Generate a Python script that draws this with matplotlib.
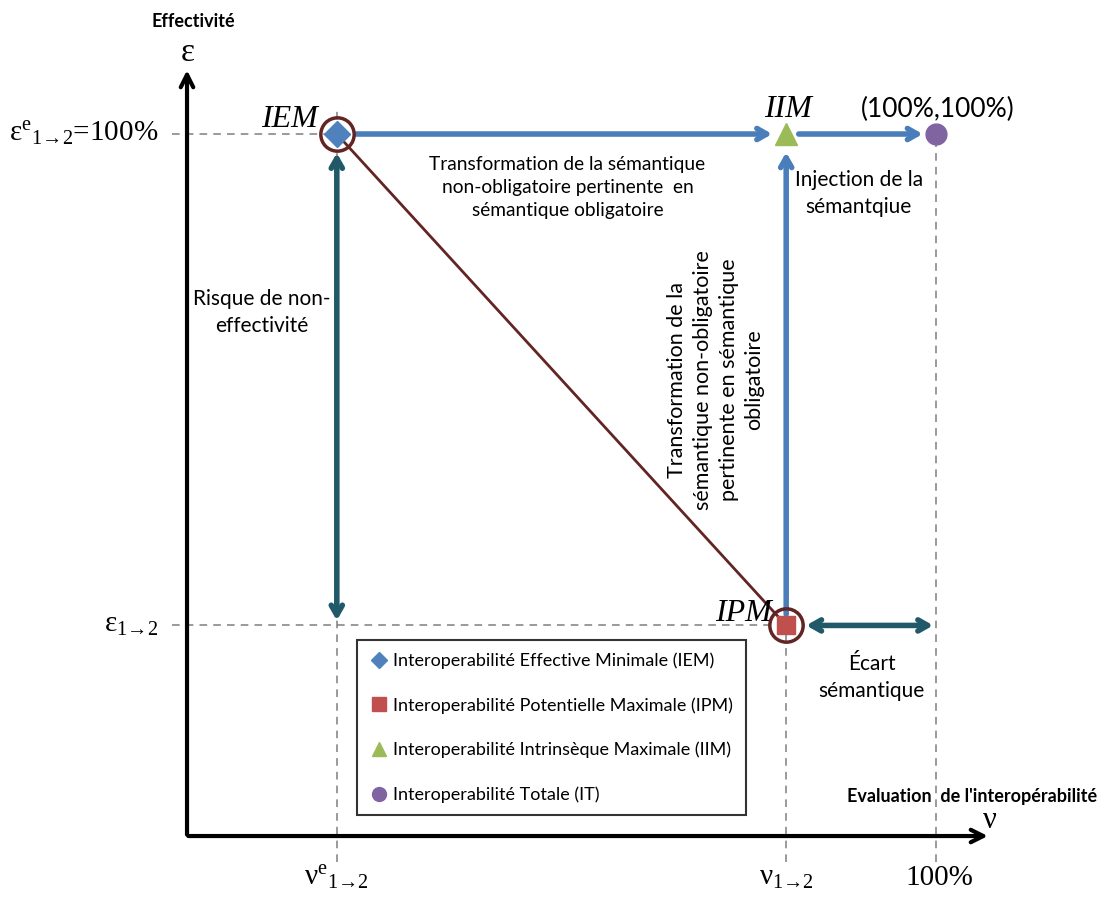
import matplotlib
matplotlib.use("Agg")
import matplotlib.pyplot as plt
from matplotlib.lines import Line2D

plt.rcParams['mathtext.fontset'] = 'custom'
plt.rcParams['mathtext.rm'] = 'Liberation Serif'
plt.rcParams['mathtext.it'] = 'Liberation Serif:italic'
plt.rcParams['mathtext.bf'] = 'Liberation Serif:bold'

# points (x = interoperability evaluation %, y = effectivity %)
names = ["IEM", "IPM", "IIM", "IT"]
x_vals = [20, 80, 80, 100]
y_vals = [100, 30, 100, 100]
markers = ["D", "s", "^", "o"]
colors = ["#4F81BD", "#C0504D", "#9BBB59", "#8064A2"]
legend_labels = ["Interoperabilité Effective Minimale (IEM)",
                 "Interoperabilité Potentielle Maximale (IPM)",
                 "Interoperabilité Intrinsèque Maximale (IIM)",
                 "Interoperabilité Totale (IT)"]

sans = "Lato"
serif = "Liberation Serif"

fig = plt.figure(figsize=(11, 8.99), dpi=100)
ax = fig.add_axes([0, 0, 1, 1])
# pixel mapping: x_px = 187 + 7.49*x ; y_px = 836 - 7.02*y
ax.set_xlim(-24.97, 121.9)
ax.set_ylim(-8.97, 119.09)
ax.axis("off")

iem = (x_vals[0], y_vals[0])
ipm = (x_vals[1], y_vals[1])
iim = (x_vals[2], y_vals[2])
it = (x_vals[3], y_vals[3])

# main axes
ax.annotate("", xy=(0, 109.5), xytext=(0, -0.2),
            arrowprops=dict(arrowstyle="->,head_length=0.9,head_width=0.45", color="black", lw=3))
ax.annotate("", xy=(107.3, 0), xytext=(-0.2, 0),
            arrowprops=dict(arrowstyle="->,head_length=0.9,head_width=0.45", color="black", lw=3))

# dashed guides
dash = dict(color="#7f7f7f", lw=1.1, ls=(0, (5, 4)))
ax.plot([-2, iem[0]], [iem[1], iem[1]], **dash)
ax.plot([-2, ipm[0]], [ipm[1], ipm[1]], **dash)
ax.plot([iem[0], iem[0]], [-3.7, iem[1] + 3.5], **dash)
ax.plot([ipm[0], ipm[0]], [-3.7, ipm[1]], **dash)
ax.plot([it[0], it[0]], [-3.7, it[1]], **dash)

# red diagonal and circles
red = "#632523"
ax.plot([iem[0], ipm[0]], [iem[1], ipm[1]], color=red, lw=2)
ax.plot([iem[0], ipm[0]], [iem[1], ipm[1]], marker="o", ms=24, mfc="none", mec=red,
        mew=2.5, ls="none", zorder=4)

# blue arrows
blue = "#4A7EBB"
bstyle = dict(arrowstyle="->,head_length=0.7,head_width=0.4", color=blue, lw=4)
ax.annotate("", xy=(iim[0] - 1.5, iim[1]), xytext=(iem[0] + 2.2, iem[1]), arrowprops=bstyle)
ax.annotate("", xy=(it[0] - 1.4, it[1]), xytext=(iim[0] + 1.3, iim[1]), arrowprops=bstyle)
ax.annotate("", xy=(iim[0], iim[1] - 2.2), xytext=(ipm[0], ipm[1] + 1.2), arrowprops=bstyle)

# teal double arrows
teal = "#215968"
tstyle = dict(arrowstyle="<->,head_length=0.7,head_width=0.4", color=teal, lw=4)
ax.annotate("", xy=(iem[0], ipm[1] + 0.3), xytext=(iem[0], iem[1] - 2.3), arrowprops=tstyle)
ax.annotate("", xy=(it[0], ipm[1]), xytext=(ipm[0] + 2.3, ipm[1]), arrowprops=tstyle)

# markers
ms = [13, 13, 16, 15]
for i in range(len(names)):
    ax.plot(x_vals[i], y_vals[i], marker=markers[i], color=colors[i], ms=ms[i],
            ls="none", zorder=5)

# point labels
lab = dict(family=serif, style="italic", fontsize=23, va="baseline")
ax.text(17.5, 101.0, "IEM", ha="right", **lab)
ax.text(iim[0] + 0.2, 102.4, "IIM", ha="center", **lab)
ax.text(78.1, 30.6, "IPM", ha="right", **lab)
ax.text(it[0] + 0.2, 102.4, "(100%,100%)", ha="center", va="baseline", family=sans, fontsize=19)

# axis symbols and titles
ax.text(0, 111.7, r"$\mathrm{ε}$", ha="center", va="center", fontsize=24)
ax.text(0.8, 116.0, "Effectivité", ha="center", va="center", family=sans,
        fontweight="bold", fontsize=13)
ax.text(107.1, 2.4, r"$\mathrm{ν}$", ha="center", va="center", fontsize=22)
ax.text(121.5, 5.7, "Evaluation  de l'interopérabilité", ha="right", va="center",
        family=sans, fontweight="bold", fontsize=13)

# tick labels
tk = dict(fontsize=21, va="center", family=serif)
ax.text(-3.8, iem[1], r"$\mathrm{ε}^{\mathrm{e}}{}_{\mathrm{1→2}}$=100%", ha="right", **tk)
ax.text(-3.8, ipm[1], r"$\mathrm{ε}_{\mathrm{1→2}}$", ha="right", **tk)
ax.text(iem[0], -6.0, r"$\mathrm{ν}^{\mathrm{e}}{}_{\mathrm{1→2}}$", ha="center", **tk)
ax.text(ipm[0], -6.0, r"$\mathrm{ν}_{\mathrm{1→2}}$", ha="center", **tk)
ax.text(it[0] + 0.4, -6.0, "100%", ha="center", **tk)

# annotations
tx = dict(family=sans, fontsize=15, ha="center", va="center", linespacing=1.45)
ax.text(50.8, 92.4, "Transformation de la sémantique\nnon-obligatoire pertinente  en\nsémantique obligatoire",
        **dict(tx, fontsize=13.8))
ax.text(89.7, 91.5, "Injection de la\nsémantqiue", **tx)
ax.text(10.0, 74.6, "Risque de non-\neffectivité", **tx)
ax.text(70.6, 65.0, "Transformation de la\nsémantique non-obligatoire\npertinente en sémantique\nobligatoire",
        rotation=90, **dict(tx, fontsize=15.5, linespacing=1.35))
ax.text(91.4, 22.6, "Écart\nsémantique", **tx)

# legend
handles = [Line2D([], [], marker=markers[i], color=colors[i], ls="none", ms=[8, 10, 10, 10][i])
           for i in range(len(names))]
leg = ax.legend(handles, legend_labels, loc="upper left", bbox_to_anchor=(357 / 1100, 1 - 640 / 899),
                bbox_transform=fig.transFigure, frameon=True, fancybox=False,
                edgecolor="black", prop={"family": sans, "size": 13},
                labelspacing=1.55, handletextpad=0.3, handlelength=1.0,
                borderpad=0.7, borderaxespad=0)
leg.get_frame().set_linewidth(1.5)

fig.savefig("out.png", dpi=100)
